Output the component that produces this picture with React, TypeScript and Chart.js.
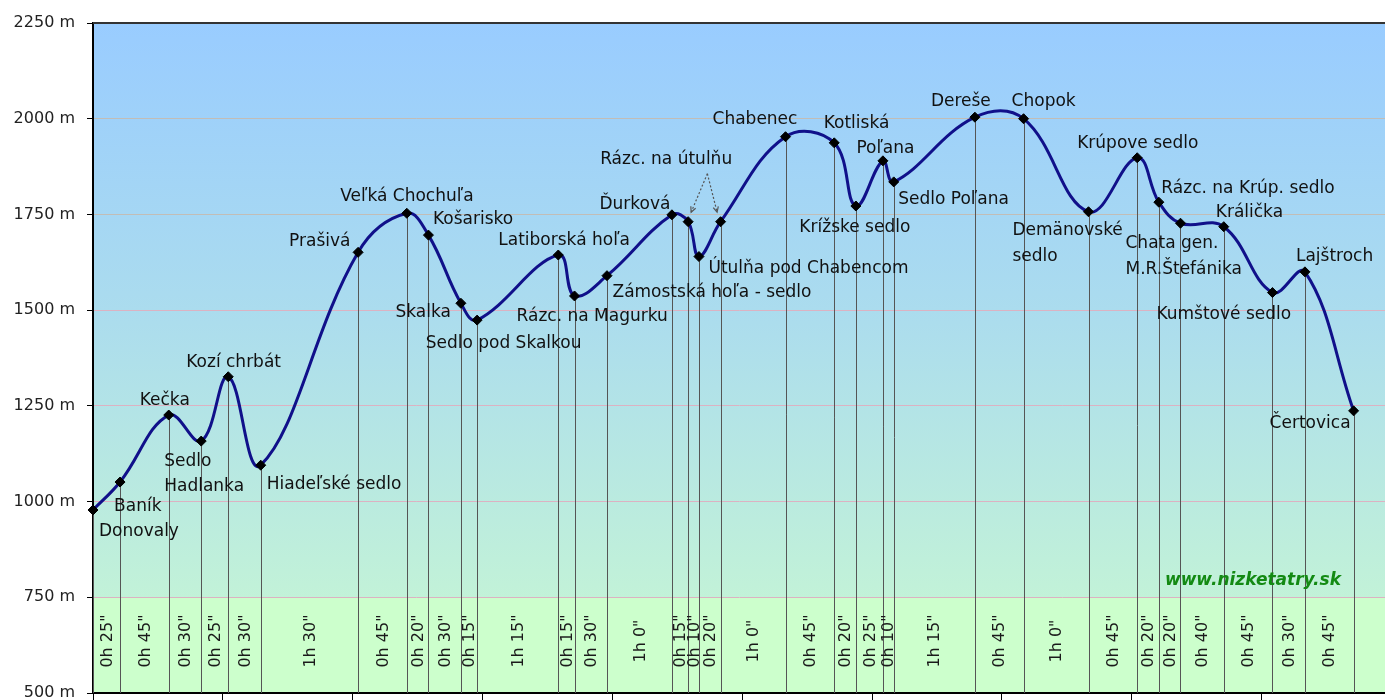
import React, { useEffect, useRef } from "react";
import { Chart, registerables } from "chart.js";
Chart.register(...registerables);

// ---- data ----
const placeNames = [
  "Donovaly", "Baník", "Kečka", "Sedlo\nHadlanka", "Kozí chrbát", "Hiadeľské sedlo",
  "Prašivá", "Veľká Chochuľa", "Košarisko", "Skalka", "Sedlo pod Skalkou",
  "Latiborská hoľa", "Rázc. na Magurku", "Zámostská hoľa - sedlo", "Ďurková",
  "Rázc. na útulňu", "Útulňa pod Chabencom", "Rázc. na útulňu", "Chabenec", "Kotliská",
  "Krížske sedlo", "Poľana", "Sedlo Poľana", "Dereše", "Chopok", "Demänovské\nsedlo",
  "Krúpove sedlo", "Rázc. na Krúp. sedlo", "Chata gen.\nM.R.Štefánika", "Králička",
  "Kumštové sedlo", "Lajštroch", "Čertovica",
];
const elevations = [
  978, 1051, 1226, 1158, 1326, 1095, 1651, 1753, 1696, 1518, 1474, 1644, 1537, 1590,
  1749, 1731, 1640, 1731, 1953, 1937, 1772, 1890, 1835, 2004, 2000, 1757, 1898, 1782,
  1727, 1718, 1546, 1600, 1237,
];
// walking time of each segment, minutes
const segmentMinutes = [
  25, 45, 30, 25, 30, 90, 45, 20, 30, 15, 75, 15, 30, 60, 15, 10, 20, 60, 45, 20, 25,
  10, 75, 45, 60, 45, 20, 20, 40, 45, 30, 45,
];
const elevationTicks = [500, 750, 1000, 1250, 1500, 1750, 2000, 2250];
const timeTickStep = 120;
const timeAxisMax = 1194;
const watermark = "www.nizketatry.sk";

// ---- label layout (styling): offset of label baseline from its marker ----
const labelOffsets: [number, number][] = [
  [6, 26], [-6, 28.5], [-29, -10], [-37, 24.5], [-42, -10], [6, 23.5],
  [-69, -6], [-66.5, -12.5], [4.5, -11.5], [-65.5, 14], [-51.5, 28],
  [-60, -10], [-58, 25.5], [5.5, 21.5], [-72.5, -6],
  [-88, -57.5], [9.5, 16.5], [0, 0], [-73, -12.5], [-10.5, -14.5],
  [-56.5, 25.5], [-26.5, -7.5], [4.5, 22], [-44, -11.5], [-12, -13], [-76, 23.5],
  [-60, -10], [2.5, -9.5], [-55, 25], [-8, -9.5],
  [-116, 26.5], [-9, -10.5], [-84, 17.5],
];
const hiddenLabels = [17];
const arrowTargets = [15, 17];

const LABEL_FONT = '17px "DejaVu Sans"';
const SMALL_FONT = '16px "DejaVu Sans"';

function fmtDuration(m: number) {
  return `${Math.floor(m / 60)}h ${m % 60}"`;
}

export default function App() {
  const ref = useRef<HTMLCanvasElement>(null);

  useEffect(() => {
    document.body.style.margin = "0";
    document.body.style.overflow = "hidden";

    const times: number[] = [0];
    segmentMinutes.forEach((m) => times.push(times[times.length - 1] + m));
    const points = times.map((t, i) => ({ x: t, y: elevations[i] }));

    const profilePlugin = {
      id: "profile",
      beforeDraw(chart: any) {
        const { ctx, chartArea: a, scales } = chart;
        const y750 = scales.y.getPixelForValue(750);
        ctx.save();
        const g = ctx.createLinearGradient(0, a.top, 0, y750);
        g.addColorStop(0, "#99ccff");
        g.addColorStop(0.5, "#abdcee");
        g.addColorStop(1, "#c2f2d8");
        ctx.fillStyle = g;
        ctx.fillRect(a.left, a.top, a.right - a.left, y750 - a.top);
        ctx.fillStyle = "#ccffcc";
        ctx.fillRect(a.left, y750, a.right - a.left, a.bottom - y750);
        ctx.restore();
      },
      beforeDatasetsDraw(chart: any) {
        const { ctx, chartArea: a } = chart;
        const meta = chart.getDatasetMeta(0);
        ctx.save();
        // vertical drop lines
        ctx.strokeStyle = "#555555";
        ctx.lineWidth = 1;
        meta.data.forEach((p: any) => {
          const x = Math.round(p.x) + 0.5;
          ctx.beginPath();
          ctx.moveTo(x, p.y);
          ctx.lineTo(x, a.bottom);
          ctx.stroke();
        });
        // segment durations
        ctx.fillStyle = "#1a1a1a";
        ctx.font = SMALL_FONT;
        ctx.textAlign = "center";
        ctx.textBaseline = "middle";
        segmentMinutes.forEach((m, i) => {
          const x = (meta.data[i].x + meta.data[i + 1].x) / 2;
          ctx.save();
          ctx.translate(x + 1, a.bottom - 52);
          ctx.rotate(-Math.PI / 2);
          ctx.fillText(fmtDuration(m), 0, 0);
          ctx.restore();
        });
        // watermark
        ctx.font = 'italic bold 17px "DejaVu Sans"';
        ctx.fillStyle = "#138a13";
        ctx.textAlign = "right";
        ctx.textBaseline = "alphabetic";
        ctx.fillText(watermark, a.right - 44, a.bottom - 108);
        ctx.restore();
      },
      afterDatasetsDraw(chart: any) {
        const { ctx, chartArea: a } = chart;
        const meta = chart.getDatasetMeta(0);
        ctx.save();
        ctx.font = LABEL_FONT;
        ctx.fillStyle = "#111";
        ctx.textAlign = "left";
        ctx.textBaseline = "alphabetic";
        placeNames.forEach((name, i) => {
          if (hiddenLabels.includes(i)) return;
          const p = meta.data[i];
          const [dx, dy] = labelOffsets[i];
          name.split("\n").forEach((line, k) => {
            ctx.fillText(line, p.x + dx, p.y + dy + k * 25.5);
          });
        });
        // dotted arrows from "Rázc. na útulňu"
        const p1 = meta.data[arrowTargets[0]];
        const p2 = meta.data[arrowTargets[1]];
        const sx = (p1.x + p2.x) / 2 + 3;
        const sy = p1.y - 48;
        const ends = [
          [p1.x + 3, p1.y - 9.5],
          [p2.x - 3.5, p2.y - 9.5],
        ];
        ctx.strokeStyle = "#555";
        ctx.lineWidth = 1.2;
        ends.forEach(([ex, ey]) => {
          ctx.setLineDash([2, 2]);
          ctx.beginPath();
          ctx.moveTo(sx, sy);
          ctx.lineTo(ex, ey);
          ctx.stroke();
          ctx.setLineDash([]);
          const ang = Math.atan2(ey - sy, ex - sx);
          const len = 6;
          ctx.beginPath();
          ctx.moveTo(ex - len * Math.cos(ang - 0.45), ey - len * Math.sin(ang - 0.45));
          ctx.lineTo(ex, ey);
          ctx.lineTo(ex - len * Math.cos(ang + 0.45), ey - len * Math.sin(ang + 0.45));
          ctx.stroke();
        });
        // top frame
        ctx.strokeStyle = "#333";
        ctx.lineWidth = 2;
        ctx.beginPath();
        ctx.moveTo(a.left, a.top);
        ctx.lineTo(a.right, a.top);
        ctx.stroke();
        ctx.restore();
      },
    };

    const chart = new Chart(ref.current!, {
      type: "line",
      data: {
        datasets: [
          {
            data: points,
            borderColor: "#10108a",
            borderWidth: 3,
            tension: 0.4,
            fill: false,
            clip: false as any,
            pointStyle: "rectRot",
            pointRadius: 5,
            pointBackgroundColor: "#000",
            pointBorderColor: "#000",
            pointBorderWidth: 1,
          },
        ],
      },
      options: {
        animation: false,
        responsive: false,
        devicePixelRatio: 1,
        layout: { autoPadding: false, padding: { top: 23, left: 0, right: 0, bottom: 0 } },
        plugins: { legend: { display: false }, tooltip: { enabled: false } },
        scales: {
          x: {
            type: "linear",
            min: 0,
            max: timeAxisMax,
            afterBuildTicks(s: any) {
              const t = [];
              for (let v = 0; v <= timeAxisMax; v += timeTickStep) t.push({ value: v });
              s.ticks = t;
            },
            afterFit(s: any) {
              s.height = 7;
              s.paddingLeft = 0;
              s.paddingRight = 0;
              s.paddingTop = 0;
              s.paddingBottom = 0;
            },
            ticks: { display: false },
            grid: {
              drawOnChartArea: false,
              drawTicks: true,
              tickLength: 8,
              tickColor: "#000",
            },
            border: { display: true, color: "#000", width: 2 },
          },
          y: {
            type: "linear",
            min: elevationTicks[0],
            max: elevationTicks[elevationTicks.length - 1],
            afterBuildTicks(s: any) {
              s.ticks = elevationTicks.map((v) => ({ value: v }));
            },
            afterFit(s: any) {
              s.width = 93;
              s.paddingLeft = 0;
              s.paddingRight = 0;
              s.paddingTop = 0;
              s.paddingBottom = 0;
            },
            ticks: {
              callback: (v: any) => `${v} m`,
              color: "#222",
              font: { family: "DejaVu Sans", size: 16 },
              padding: 12,
            },
            grid: {
              color: (c: any) =>
                c.tick && c.tick.value >= 1750 ? "#c2bdb6" : "#dcb2c2",
              lineWidth: 1,
              drawTicks: true,
              tickLength: 6,
              tickColor: "#000",
            },
            border: { display: true, color: "#000", width: 2 },
          },
        },
      },
      plugins: [profilePlugin],
    });
    return () => chart.destroy();
  }, []);

  return <canvas ref={ref} width={1385} height={700} style={{ display: "block" }} />;
}
